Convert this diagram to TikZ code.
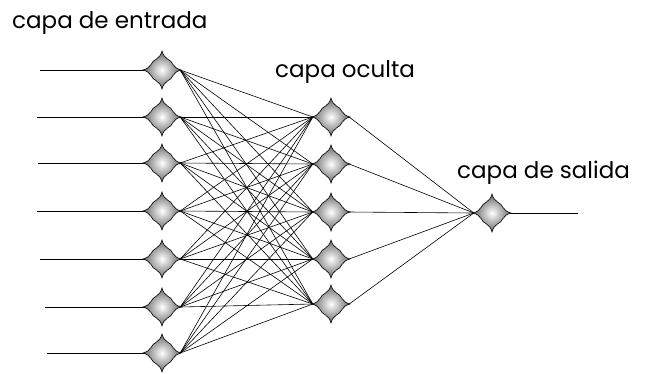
\documentclass[tikz,border=0pt]{standalone}
\usepackage{fontspec}
\setmainfont{Poppins}
\begin{document}
\begin{tikzpicture}[x=1pt,y=-1pt,
  unit/.style={circle,draw=none,inner sep=0pt,minimum size=36pt},
  wire/.style={line width=0.6pt,black},
  lbl/.style={anchor=base west,inner sep=0pt,font=\fontsize{23}{27}\selectfont},
  pics/neuron/.style={code={
    \shade[draw=black,line width=0.6pt,shading=radial,inner color=white,outer color=black!60]
      (19,0) .. controls (15,1) and (12.5,3) .. (11,5.5)
      .. controls (10,7.8) and (7.8,10) .. (5.5,11)
      .. controls (3,12.5) and (1,15) .. (0,19)
      .. controls (-1,15) and (-3,12.5) .. (-5.5,11)
      .. controls (-7.8,10) and (-10,7.8) .. (-11,5.5)
      .. controls (-12.5,3) and (-15,1) .. (-19,0)
      .. controls (-15,-1) and (-12.5,-3) .. (-11,-5.5)
      .. controls (-10,-7.8) and (-7.8,-10) .. (-5.5,-11)
      .. controls (-3,-12.5) and (-1,-15) .. (0,-19)
      .. controls (1,-15) and (3,-12.5) .. (5.5,-11)
      .. controls (7.8,-10) and (10,-7.8) .. (11,-5.5)
      .. controls (12.5,-3) and (15,-1) .. cycle;
  }}]
\useasboundingbox (0,0) rectangle (647,373);
\clip (0,0) rectangle (647,373);

% input layer
\foreach \k/\y/\sx in {1/70/40,2/117/37,3/163/38,4/211/37,5/259/40,6/307/45,7/353/47}{
  \node[unit] (i\k) at (162,\y) {};
  \coordinate (s\k) at (\sx,\y);
}
% hidden layer
\foreach \k/\y in {1/117,2/164,3/212,4/259,5/304}{
  \node[unit] (h\k) at (331,\y) {};
}
% output
\node[unit] (o1) at (492,213) {};
\coordinate (e1) at (578,213);

% connections
\foreach \k in {1,...,7}{
  \draw[wire] (s\k) -- (i\k.west);
  \foreach \j in {1,...,5}{
    \draw[wire] (i\k.east) -- (h\j.west);
  }
}
\foreach \j in {1,...,5}{
  \draw[wire] (h\j.east) -- (o1.west);
}
\draw[wire] (o1.east) -- (e1);

% neurons
\foreach \k in {1,...,7}{ \pic at (i\k) {neuron}; }
\foreach \k in {1,...,5}{ \pic at (h\k) {neuron}; }
\pic at (o1) {neuron};

% labels
\node[lbl] (t1) at (12,28) {capa de entrada};
\node[lbl] (t2) at (275,77) {capa oculta};
\node[lbl] (t3) at (457,178) {capa de salida};
\end{tikzpicture}
\end{document}
